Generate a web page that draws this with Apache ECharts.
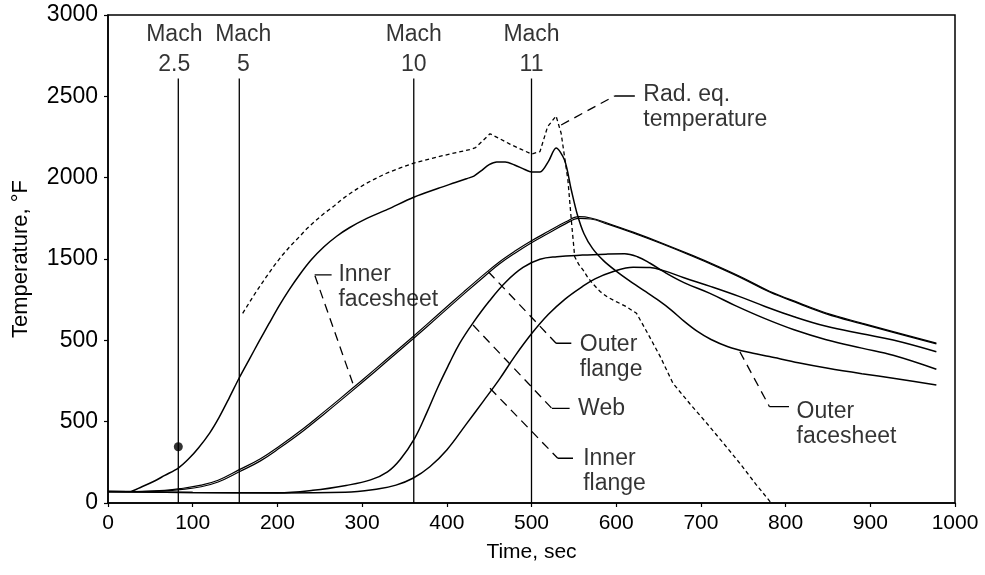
<!DOCTYPE html>
<html><head><meta charset="utf-8">
<script src="https://cdn.jsdelivr.net/npm/echarts@6/dist/echarts.min.js"></script>
<style>html,body{margin:0;padding:0;background:#fff}#c{width:985px;height:575px}</style>
</head><body><div id="c"></div>
<script>
// ---- data (time s, temperature F) ----
const yTickLabels = ['0', '500', '500', '1500', '2000', '2500', '3000'];
const machTimes = [83, 155, 361, 500];
const machNames = ['2.5', '5', '10', '11'];
const machTop = 2610;
const dotPoint = [[83, 346]];

const outerFacesheet = [[0,70],[25,70],[40,100],[55,135],[67,170],[83,215],[95,270],[107,340],[120,430],[131,525],[143,645],[155,770],[167,885],[178,990],[190,1102],[202,1212],[214,1312],[226,1402],[240,1495],[255,1575],[270,1640],[285,1692],[305,1748],[330,1805],[361,1880],[390,1935],[410,1970],[424,1995],[432,2010],[440,2040],[450,2080],[459,2097],[469,2097],[480,2078],[492,2050],[500,2035],[510,2035],[520,2100],[529,2182],[539,2108],[547,1924],[554,1775],[562,1655],[572,1565],[585,1490],[600,1425],[615,1368],[633,1305],[650,1245],[665,1186],[680,1118],[695,1058],[712,1005],[732,961],[755,928],[781,900],[815,862],[850,828],[890,795],[929,766],[978,725]];
const innerFacesheet = [[0,70],[40,72],[67,78],[85,88],[110,110],[130,140],[155,205],[180,272],[203,352],[230,455],[255,560],[273,637],[300,755],[330,888],[361,1027],[390,1160],[420,1298],[445,1410],[462,1482],[480,1547],[500,1612],[520,1670],[540,1727],[556,1760],[570,1752],[590,1720],[620,1665],[653,1600],[690,1522],[720,1455],[750,1383],[781,1302],[815,1232],[848,1168],[890,1106],[927,1054],[978,983]];
const outerFlange = [[0,70],[40,70],[67,74],[85,82],[110,100],[130,129],[155,192],[180,259],[203,339],[230,441],[255,546],[273,623],[300,741],[330,874],[361,1013],[390,1146],[420,1284],[445,1396],[462,1469],[480,1534],[500,1600],[520,1658],[540,1716],[556,1750],[570,1746],[590,1714],[620,1660],[653,1595],[690,1517],[720,1450],[750,1378],[781,1297],[815,1227],[848,1163],[890,1101],[927,1049],[978,978]];
const web = [[0,70],[100,64],[200,63],[242,78],[281,108],[310,142],[330,192],[345,268],[362,398],[376,551],[390,718],[403,858],[415,980],[430,1100],[450,1240],[470,1360],[490,1448],[510,1498],[530,1514],[560,1524],[590,1530],[610,1532],[625,1514],[640,1474],[655,1425],[680,1355],[710,1290],[740,1215],[775,1135],[810,1065],[848,1004],[890,952],[927,908],[978,822]];
const innerFlange = [[0,70],[100,64],[200,62],[280,66],[320,88],[340,110],[360,152],[380,223],[400,326],[423,485],[443,625],[462,760],[480,900],[500,1040],[520,1160],[540,1255],[560,1330],[575,1378],[595,1420],[620,1450],[640,1447],[655,1430],[680,1385],[712,1330],[745,1270],[775,1210],[810,1145],[848,1086],[890,1040],[927,1002],[978,930]];
const radEq = [[159,1166],[166,1225],[172,1275],[180,1338],[187,1391],[196,1458],[205,1518],[215,1578],[226,1637],[235,1688],[245,1735],[255,1780],[266,1822],[275,1862],[285,1900],[295,1934],[305,1965],[318,2000],[330,2030],[345,2060],[360,2088],[378,2113],[395,2135],[412,2155],[427,2172],[434,2185],[442,2225],[451,2270],[463,2238],[475,2205],[488,2174],[500,2145],[510,2160],[519,2313],[529,2379],[535,2273],[543,1985],[547,1740],[551,1514],[556,1465],[561,1432],[566,1390],[572,1350],[581,1300],[590,1265],[600,1238],[612,1207],[624,1166],[638,1035],[652,900],[667,736],[687,610],[707,490],[727,365],[746,244],[765,115],[783,0]];

// ---- annotations ----
const noteTexts = ['Rad. eq.\ntemperature', 'Inner\nfacesheet', 'Outer\nflange', 'Web', 'Inner\nflange', 'Outer\nfacesheet'];
const noteAnchors = [[632,2431],[272,1325],[557,899],[555,582],[561,195],[813,483]];
const noteDashed = [
  [[535,2324],[598,2502]],
  [[289,736],[244,1402]],
  [[449,1422],[529,982]],
  [[431,1094],[524,582]],
  [[451,705],[531,275]],
  [[746,930],[781,592]]
];
const noteSolid = [
  [[598,2502],[622,2502]],
  [[244,1402],[264,1402]],
  [[529,982],[547,982]],
  [[524,582],[545,582]],
  [[531,275],[549,275]],
  [[781,592],[804,592]]
];

// ---- styles ----
const machLabelOffsets = [-4, 4, 0, 0];
const FONT = "'Liberation Sans', Arial, Helvetica, sans-serif";

const chart = echarts.init(document.getElementById('c'), null, {renderer: 'canvas'});

function curve(name, data, extra) {
  return Object.assign({
    name, type: 'line', data, showSymbol: false, symbol: 'none',
    smooth: 0.4,
    lineStyle: {color: '#000', width: 1.5}, silent: true, z: 3
  }, extra || {});
}

const series = [
  curve('Outer facesheet', outerFacesheet, {smooth: 0.3}),
  curve('Inner facesheet', innerFacesheet, {lineStyle: {color: '#000', width: 1.2}}),
  curve('Outer flange', outerFlange, {lineStyle: {color: '#000', width: 1.2}}),
  curve('Web', web),
  curve('Inner flange', innerFlange),
  curve('Rad. eq. temperature', radEq, {smooth: false, lineStyle: {color: '#000', width: 1.3, type: [4, 3]}})
];

machTimes.forEach(function (t) {
  series.push({type: 'line', data: [[t, machTop], [t, 0]], symbol: 'none', silent: true,
    lineStyle: {color: '#000', width: 1.3}, z: 2});
});

series.push({
  type: 'scatter', symbolSize: 0, silent: true, z: 5,
  data: machTimes.map(function (t, i) {
    return {value: [t, machTop], label: {offset: [machLabelOffsets[i], 1]}};
  }),
  label: {
    show: true, position: 'top', distance: 0, align: 'center',
    formatter: function (p) { return 'Mach\n' + machNames[p.dataIndex]; },
    fontFamily: FONT, fontSize: 23, lineHeight: 30, color: '#000'
  }
});

series.push({type: 'scatter', data: dotPoint, symbol: 'circle', symbolSize: 9,
  itemStyle: {color: '#000'}, silent: true, z: 6});

noteDashed.forEach(function (seg) {
  series.push({type: 'line', data: seg, symbol: 'none', silent: true,
    lineStyle: {color: '#000', width: 1.3, type: [9, 6]}, z: 4});
});
noteSolid.forEach(function (seg) {
  series.push({type: 'line', data: seg, symbol: 'none', silent: true,
    lineStyle: {color: '#000', width: 1.3}, z: 4});
});

series.push({
  type: 'scatter', symbolSize: 0, silent: true, z: 5,
  data: noteAnchors,
  label: {
    show: true, position: 'right', distance: 0, align: 'left', verticalAlign: 'middle',
    formatter: function (p) { return noteTexts[p.dataIndex]; },
    fontFamily: FONT, fontSize: 23, lineHeight: 25, color: '#000'
  }
});

chart.setOption({
  animation: false,
  backgroundColor: '#fff',
  grid: {left: 108, right: 30, top: 15, bottom: 72, show: true, borderColor: '#000', borderWidth: 1.5, backgroundColor: 'transparent'},
  xAxis: {
    type: 'value', min: 0, max: 1000, interval: 100,
    name: 'Time, sec', nameLocation: 'middle', nameGap: 39,
    nameTextStyle: {fontFamily: FONT, fontSize: 21, color: '#000'},
    axisLine: {show: true, lineStyle: {color: '#000', width: 1.5}},
    axisTick: {show: true, inside: false, length: 4, lineStyle: {color: '#000', width: 1.2}},
    axisLabel: {fontFamily: FONT, fontSize: 21, color: '#000', margin: 10,
      formatter: function (v) { return String(v); }},
    splitLine: {show: false}
  },
  yAxis: {
    type: 'value', min: 0, max: 3000, interval: 500,
    name: 'Temperature, \u00b0F', nameLocation: 'middle', nameGap: 76,
    nameTextStyle: {fontFamily: FONT, fontSize: 22, color: '#000'},
    axisLine: {show: true, lineStyle: {color: '#000', width: 1.5}},
    axisTick: {show: true, inside: false, length: 4, lineStyle: {color: '#000', width: 1.2}},
    axisLabel: {fontFamily: FONT, fontSize: 23, color: '#000', margin: 10,
      formatter: function (v) { return yTickLabels[Math.round(v / 500)]; }},
    splitLine: {show: false}
  },
  series: series
});
</script>
</body></html>
